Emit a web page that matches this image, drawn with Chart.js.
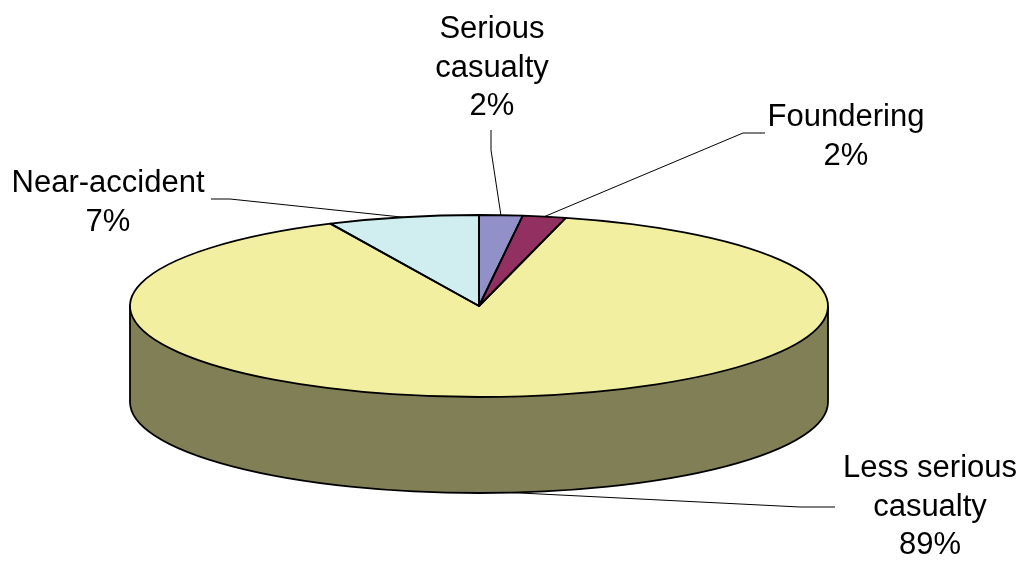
<!DOCTYPE html>
<html>
<head>
<meta charset="utf-8">
<title>Casualty types</title>
<script src="https://cdn.jsdelivr.net/npm/chart.js@4.4.1/dist/chart.umd.min.js"></script>
<style>
  html, body { margin: 0; padding: 0; background: #fff; }
  canvas { display: block; }
</style>
</head>
<body>
<canvas id="myChart" width="1026" height="561"></canvas>
<script>
// slices, clockwise from 12 o'clock
const categories = ['Serious casualty', 'Foundering', 'Less serious casualty', 'Near-accident'];
const shares = [2, 2, 89, 7];

const sliceColors = ['#9290c8', '#923062', '#f2f0a0', '#d0eef0'];

// label placement: centre x / first baseline, and the start of each leader line
const labelPos = [[492, 38], [846, 126], [930, 477], [108, 192]];
const leaderStart = [
  [[491, 130], [491, 150]],
  [[765, 133], [743, 133]],
  [[835, 507], [800, 507]],
  [[211, 199], [230, 199]]
];

const DEPTH = 96;          // height of the pie's side wall
const FONT = '31px "Liberation Sans", Arial, sans-serif';
const LINE_H = 38.5;
const WRAP = 200;

// darker version of a slice colour for the side wall
function shade(hex, f) {
  const n = parseInt(hex.slice(1), 16);
  const r = Math.round(((n >> 16) & 255) * f);
  const g = Math.round(((n >> 8) & 255) * f);
  const b = Math.round((n & 255) * f);
  return `rgb(${r}, ${g}, ${b})`;
}

function geometry(chart) {
  const area = chart.chartArea;
  const arcs = chart.getDatasetMeta(0).data;
  return {
    cx: arcs[0].x,
    cy: arcs[0].y,
    rx: (area.right - area.left) / 2,
    ry: (area.bottom - area.top) / 2,
    r: arcs[0].outerRadius,
    arcs: arcs
  };
}

function wrapText(ctx, text, width) {
  const words = text.split(' ');
  const lines = [];
  let line = '';
  words.forEach(function (w) {
    const test = line ? line + ' ' + w : w;
    if (line && ctx.measureText(test).width > width) {
      lines.push(line);
      line = w;
    } else {
      line = test;
    }
  });
  if (line) lines.push(line);
  return lines;
}

// squash the pie into an ellipse and give it a side wall
const pie3d = {
  id: 'pie3d',
  beforeDatasetsDraw(chart) {
    const ctx = chart.ctx;
    const g = geometry(chart);

    // side wall: only the front half (0..PI) is visible
    g.arcs.forEach(function (arc, i) {
      for (let k = -1; k <= 1; k++) {
        const lo = Math.max(arc.startAngle, 2 * Math.PI * k);
        const hi = Math.min(arc.endAngle, 2 * Math.PI * k + Math.PI);
        if (hi <= lo) continue;
        ctx.beginPath();
        ctx.ellipse(g.cx, g.cy, g.rx, g.ry, 0, lo, hi);
        ctx.ellipse(g.cx, g.cy + DEPTH, g.rx, g.ry, 0, hi, lo, true);
        ctx.closePath();
        ctx.fillStyle = shade(sliceColors[i], 0.53);
        ctx.fill();
      }
    });

    ctx.save();
    ctx.translate(g.cx, g.cy);
    ctx.scale(g.rx / g.r, g.ry / g.r);
    ctx.translate(-g.cx, -g.cy);
  },
  afterDatasetsDraw(chart) {
    const ctx = chart.ctx;
    ctx.restore();
    const g = geometry(chart);

    ctx.save();
    ctx.strokeStyle = '#000';
    ctx.lineWidth = 1.8;
    ctx.lineJoin = 'round';

    // outline of the side wall
    ctx.beginPath();
    ctx.moveTo(g.cx + g.rx, g.cy);
    ctx.lineTo(g.cx + g.rx, g.cy + DEPTH);
    ctx.ellipse(g.cx, g.cy + DEPTH, g.rx, g.ry, 0, 0, Math.PI);
    ctx.lineTo(g.cx - g.rx, g.cy);
    ctx.stroke();

    // slice boundaries that fall on the front of the wall
    g.arcs.forEach(function (arc) {
      const a = ((arc.startAngle % (2 * Math.PI)) + 2 * Math.PI) % (2 * Math.PI);
      if (a > 0 && a < Math.PI) {
        const x = g.cx + g.rx * Math.cos(a);
        const y = g.cy + g.ry * Math.sin(a);
        ctx.beginPath();
        ctx.moveTo(x, y);
        ctx.lineTo(x, y + DEPTH);
        ctx.stroke();
      }
    });

    // top face outlines
    g.arcs.forEach(function (arc) {
      ctx.beginPath();
      ctx.moveTo(g.cx, g.cy);
      ctx.ellipse(g.cx, g.cy, g.rx, g.ry, 0, arc.startAngle, arc.endAngle);
      ctx.closePath();
      ctx.stroke();
    });

    // leader lines and labels
    const total = shares.reduce((t, v) => t + v, 0);
    ctx.lineWidth = 1;
    ctx.font = FONT;
    ctx.fillStyle = '#000';
    ctx.textAlign = 'center';
    ctx.textBaseline = 'alphabetic';

    g.arcs.forEach(function (arc, i) {
      const mid = (arc.startAngle + arc.endAngle) / 2;
      const px = g.cx + g.rx * Math.cos(mid);
      let py = g.cy + g.ry * Math.sin(mid);
      if (Math.sin(mid) > 0) py += DEPTH;

      const pts = leaderStart[i];
      ctx.beginPath();
      ctx.moveTo(pts[0][0], pts[0][1]);
      for (let j = 1; j < pts.length; j++) ctx.lineTo(pts[j][0], pts[j][1]);
      ctx.lineTo(px, py);
      ctx.stroke();

      const lines = wrapText(ctx, categories[i], WRAP);
      lines.push(Math.round(shares[i] / total * 100) + '%');
      lines.forEach(function (text, j) {
        ctx.fillText(text, labelPos[i][0], labelPos[i][1] + j * LINE_H);
      });
    });
    ctx.restore();
  }
};

const ctx = document.getElementById('myChart').getContext('2d');
const myPieChart = new Chart(ctx, {
  type: 'pie',
  data: {
    labels: categories,
    datasets: [{
      data: shares,
      backgroundColor: sliceColors,
      borderWidth: 0
    }]
  },
  options: {
    responsive: false,
    animation: false,
    devicePixelRatio: 1,
    layout: {
      padding: { left: 130, right: 198, top: 215, bottom: 164 }
    },
    plugins: {
      legend: { display: false },
      tooltip: { enabled: false }
    }
  },
  plugins: [pie3d]
});
</script>
</body>
</html>
